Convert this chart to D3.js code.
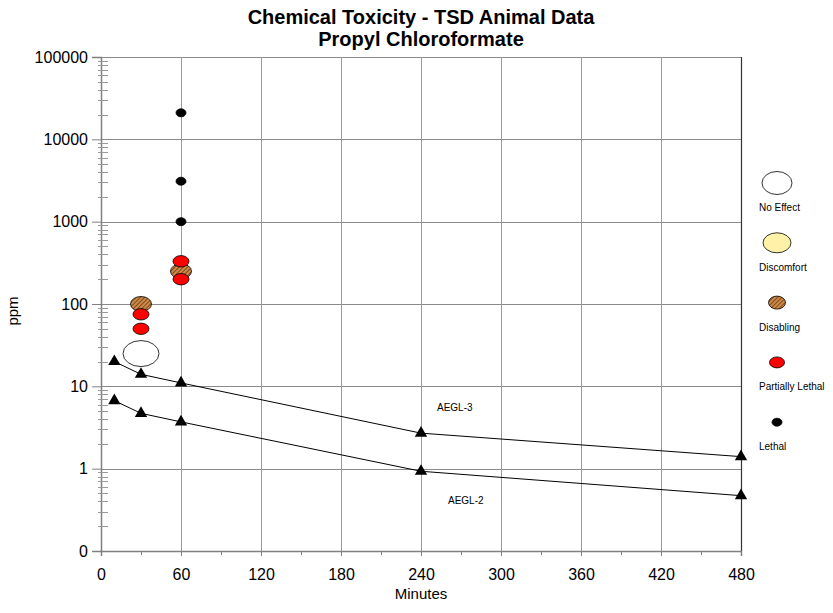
<!DOCTYPE html>
<html>
<head>
<meta charset="utf-8">
<script src="https://cdn.jsdelivr.net/npm/d3@7"></script>
<style>
  html, body { margin: 0; padding: 0; background: #fff; }
  svg { display: block; font-family: "Liberation Sans", Arial, sans-serif; }
</style>
</head>
<body>
<svg id="chart" width="833" height="613"></svg>
<script>
// ---- Data ----
const titleLines = ["Chemical Toxicity - TSD Animal Data", "Propyl Chloroformate"];
const xTickValues = [0, 60, 120, 180, 240, 300, 360, 420, 480];
const xMinorValues = [30, 90, 150, 210, 270, 330, 390, 450];
const yTickValues = [0.1, 1, 10, 100, 1000, 10000, 100000];
const yTickLabels = ["0", "1", "10", "100", "1000", "10000", "100000"];

const aeglTimes = [10, 30, 60, 240, 480];
const aegl3 = [20, 14, 11, 2.7, 1.4];
const aegl2 = [6.7, 4.7, 3.7, 0.93, 0.47];

const noEffectT = [30];
const noEffectPpm = [25];
const disablingT = [30, 60];
const disablingPpm = [100, 250];
const partLethalT = [30, 30, 60, 60];
const partLethalPpm = [75, 50, 330, 200];
const lethalT = [60, 60, 60];
const lethalPpm = [21000, 3100, 1000];

const legendNames = ["No Effect", "Discomfort", "Disabling", "Partially Lethal", "Lethal"];

// ---- Layout ----
const svg = d3.select("#chart");
const L = 101, R = 741, T = 57, B = 551;
const x = d3.scaleLinear().domain([0, 480]).range([L, R]);
const y = d3.scaleLog().domain([0.1, 100000]).range([B, T]);

// pattern for disabling
const defs = svg.append("defs");
const pat = defs.append("pattern").attr("id", "hatch")
  .attr("patternUnits", "userSpaceOnUse").attr("width", 3).attr("height", 3)
  .attr("patternTransform", "rotate(45)");
pat.append("rect").attr("width", 3).attr("height", 3).attr("fill", "#d08a45");
pat.append("line").attr("x1", 0).attr("y1", 0).attr("x2", 0).attr("y2", 3)
  .attr("stroke", "#4a2810").attr("stroke-width", 1.3);

// Title
svg.append("g").selectAll("text").data(titleLines).join("text")
  .attr("x", 421).attr("y", (d, i) => 24 + i * 22)
  .attr("text-anchor", "middle").attr("font-weight", "bold").attr("font-size", 20)
  .attr("fill", "#000").text(d => d);

// Grid
const grid = svg.append("g");
grid.selectAll("line.h").data(yTickValues.slice(1)).join("line").attr("class", "h")
  .attr("x1", L).attr("x2", R).attr("y1", d => Math.round(y(d)) + 0.5).attr("y2", d => Math.round(y(d)) + 0.5)
  .attr("stroke", "#8a8a8a").attr("stroke-width", 1);
grid.selectAll("line.v").data(xTickValues.slice(1, -1)).join("line").attr("class", "v")
  .attr("x1", d => Math.round(x(d)) + 0.5).attr("x2", d => Math.round(x(d)) + 0.5).attr("y1", T).attr("y2", B)
  .attr("stroke", "#9a9a9a").attr("stroke-width", 1);
// right frame
svg.append("line").attr("x1", R + 0.5).attr("x2", R + 0.5).attr("y1", T).attr("y2", B)
  .attr("stroke", "#333").attr("stroke-width", 1.2);

// Y axis
const yAxis = d3.axisLeft(y).tickValues(yTickValues)
  .tickFormat((d, i) => yTickLabels[i]).tickSize(9).tickPadding(4);
const gy = svg.append("g").attr("transform", `translate(${L},0)`).call(yAxis);
gy.select(".domain").attr("stroke", "#808080").attr("stroke-width", 1.5);
gy.selectAll(".tick line").attr("stroke", "#808080").attr("stroke-width", 1);
gy.selectAll(".tick text").attr("font-size", 16).attr("fill", "#000")
  .attr("font-family", "Liberation Sans, Arial, sans-serif");
// minor y ticks
const yMinor = [];
for (let e = -1; e < 5; e++) for (let m = 2; m <= 9; m++) yMinor.push(m * Math.pow(10, e));
svg.append("g").selectAll("line").data(yMinor).join("line")
  .attr("x1", L - 3).attr("x2", L + 7)
  .attr("y1", d => Math.round(y(d)) + 0.5).attr("y2", d => Math.round(y(d)) + 0.5)
  .attr("stroke", "#999").attr("stroke-width", 1);

// X axis
const xAxis = d3.axisBottom(x).tickValues(xTickValues).tickSize(5).tickPadding(13);
const gx = svg.append("g").attr("transform", `translate(0,${B})`).call(xAxis);
gx.select(".domain").attr("stroke", "#808080").attr("stroke-width", 1.5);
gx.selectAll(".tick line").attr("stroke", "#808080");
gx.selectAll(".tick text").attr("font-size", 16).attr("fill", "#000")
  .attr("font-family", "Liberation Sans, Arial, sans-serif");
const xMinorAxis = d3.axisBottom(x).tickValues(xMinorValues).tickSize(4).tickFormat("");
const gxm = svg.append("g").attr("transform", `translate(0,${B})`).call(xMinorAxis);
gxm.select(".domain").remove();
gxm.selectAll(".tick line").attr("stroke", "#808080");

// Axis titles
svg.append("text").attr("x", 421).attr("y", 599).attr("text-anchor", "middle")
  .attr("font-size", 15).text("Minutes");
svg.append("text").attr("transform", "translate(18,311) rotate(-90)").attr("text-anchor", "middle")
  .attr("font-size", 15).text("ppm");

// AEGL lines
const line = d3.line().x(d => x(d[0])).y(d => y(d[1]));
[aegl3, aegl2].forEach(vals => {
  const pts = aeglTimes.map((t, i) => [t, vals[i]]);
  svg.append("path").datum(pts).attr("d", line).attr("fill", "none")
    .attr("stroke", "#000").attr("stroke-width", 1);
  svg.append("g").selectAll("path").data(pts).join("path")
    .attr("transform", d => `translate(${x(d[0])},${y(d[1])})`)
    .attr("d", d3.symbol(d3.symbolTriangle, 66)).attr("fill", "#000");
});
svg.append("text").attr("x", 437).attr("y", 411).attr("font-size", 10).text("AEGL-3");
svg.append("text").attr("x", 448).attr("y", 504).attr("font-size", 10).text("AEGL-2");

// Data markers
function drawPts(ts, ps, rx, ry, fill) {
  svg.append("g").selectAll("ellipse").data(ts.map((t, i) => [t, ps[i]])).join("ellipse")
    .attr("cx", d => x(d[0])).attr("cy", d => y(d[1])).attr("rx", rx).attr("ry", ry)
    .attr("fill", fill).attr("stroke", "#000").attr("stroke-width", 0.8);
}
drawPts(noEffectT, noEffectPpm, 18, 13, "#fff");
drawPts(disablingT, disablingPpm, 10.5, 7.5, "url(#hatch)");
drawPts(partLethalT, partLethalPpm, 8, 5.7, "#ff0000");
drawPts(lethalT, lethalPpm, 5, 4, "#000");

// Legend
const legendStyles = [
  { rx: 15, ry: 11.5, fill: "#fff" },
  { rx: 14, ry: 10, fill: "#fff2a8" },
  { rx: 8.5, ry: 6.5, fill: "url(#hatch)" },
  { rx: 7.5, ry: 5.5, fill: "#ff0000" },
  { rx: 5, ry: 4, fill: "#000" }
];
const lg = svg.append("g").selectAll("g").data(legendNames).join("g")
  .attr("transform", (d, i) => `translate(0,${i * 59.8})`);
lg.append("ellipse").attr("cx", 777).attr("cy", 183)
  .attr("rx", (d, i) => legendStyles[i].rx).attr("ry", (d, i) => legendStyles[i].ry)
  .attr("fill", (d, i) => legendStyles[i].fill).attr("stroke", "#000").attr("stroke-width", 0.8);
lg.append("text").attr("x", 759).attr("y", 211).attr("font-size", 10).text(d => d);
</script>
</body>
</html>
